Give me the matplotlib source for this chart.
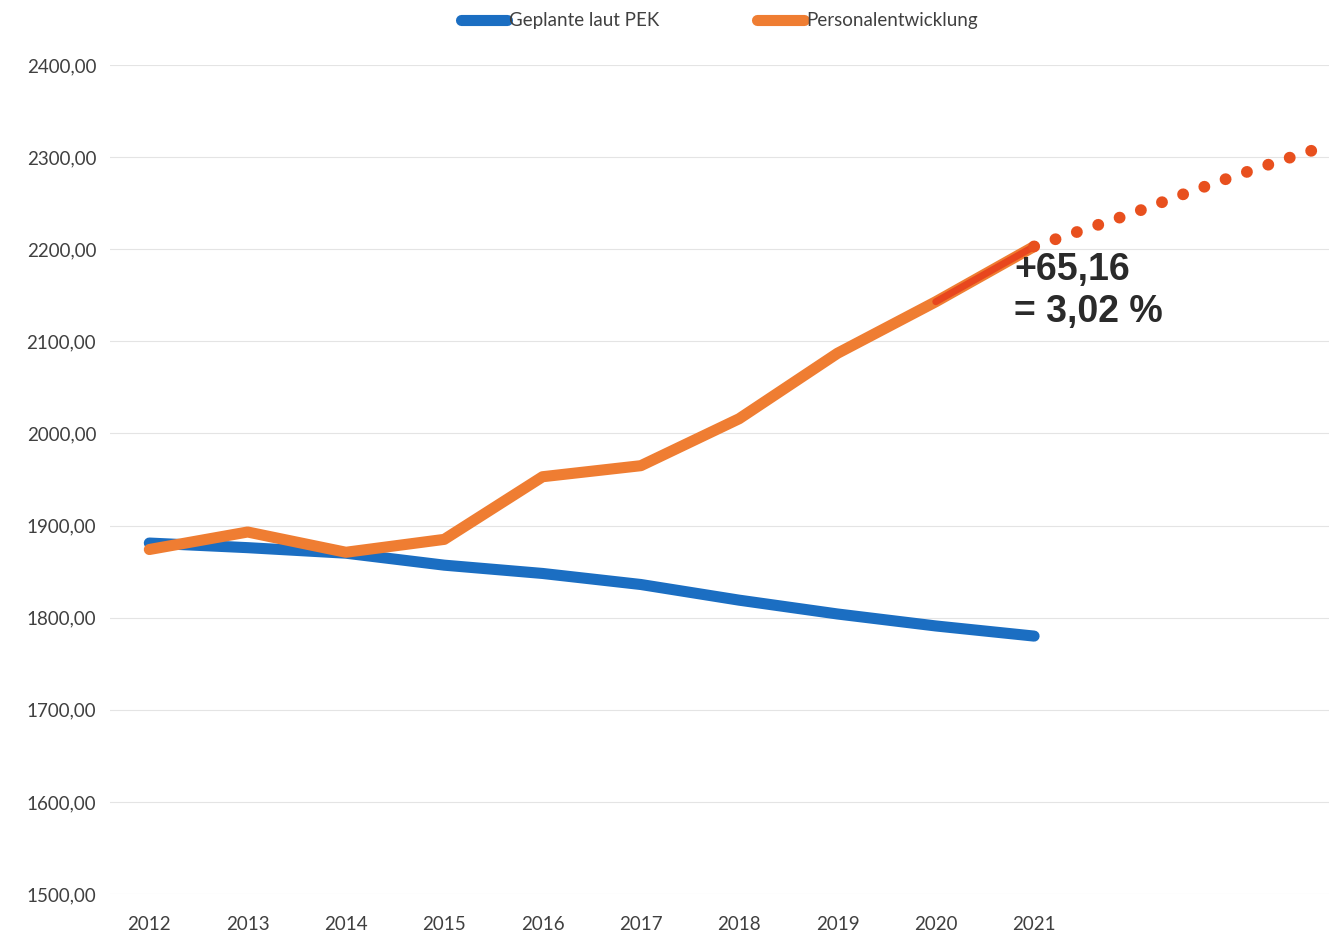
import matplotlib.pyplot as plt
from matplotlib.ticker import FuncFormatter

# data
years = [2012, 2013, 2014, 2015, 2016, 2017, 2018, 2019, 2020, 2021]
geplant = [1881, 1876, 1870, 1857, 1848, 1836, 1819, 1804, 1791, 1780]
personal = [1874, 1893, 1871, 1885, 1953, 1965, 2016, 2087, 2143, 2203]
# hand drawn projection (dotted) beyond 2021
proj_years = [2021, 2021.5, 2022, 2022.5, 2023, 2023.5, 2024]
proj_vals = [2203, 2221, 2239, 2259, 2278, 2296, 2313]
yticks = [1500, 1600, 1700, 1800, 1900, 2000, 2100, 2200, 2300, 2400]

plt.rcParams['font.family'] = ['Lato', 'DejaVu Sans']

fig = plt.figure(figsize=(13.29, 9.49), dpi=100)
ax = fig.add_axes([110 / 1329, 1 - 894 / 949, 1 - 110 / 1329, (894 - 65) / 949])

ax.plot(years, geplant, color='#1b6ec2', lw=8, solid_capstyle='round',
        label='Geplante laut PEK', zorder=3)
ax.plot(years, personal, color='#ef7d32', lw=8, solid_capstyle='round',
        label='Personalentwicklung', zorder=4)
# red marker over the last segment
ax.plot(years[-2:], personal[-2:], color='#e8461e', lw=5, solid_capstyle='round', zorder=5)
# dotted projection
ax.plot(proj_years, proj_vals, color='#e8501e', lw=8.5, linestyle=(0, (0.01, 1.9)),
        dash_capstyle='round', zorder=5)

ax.text(2020.8, 2197, '+65,16\n= 3,02 %', fontsize=27, fontweight='bold',
        family=['Liberation Sans', 'DejaVu Sans'], color='#2a2a2a',
        va='top', ha='left', linespacing=1.2, zorder=6)

ax.set_xlim(2011.6, 2024.0)
ax.set_ylim(1500, 2400)
ax.set_xticks(years)
ax.set_yticks(yticks)
ax.yaxis.set_major_formatter(FuncFormatter(lambda v, p: f'{v:.2f}'.replace('.', ',')))
ax.tick_params(length=0, labelsize=13.5, labelcolor='#404040')
ax.tick_params(axis='y', pad=10)
ax.tick_params(axis='x', pad=16)
ax.grid(axis='y', color='#e4e4e4', lw=0.8)
ax.set_axisbelow(True)
for s in ax.spines.values():
    s.set_visible(False)

fig.legend(loc='center', bbox_to_anchor=(0.541, 0.978), ncol=2, frameon=False,
           fontsize=13.5, handlelength=2.5, handletextpad=0.1, columnspacing=5.2,
           labelcolor='#404040')

fig.savefig('out.png', dpi=100)
